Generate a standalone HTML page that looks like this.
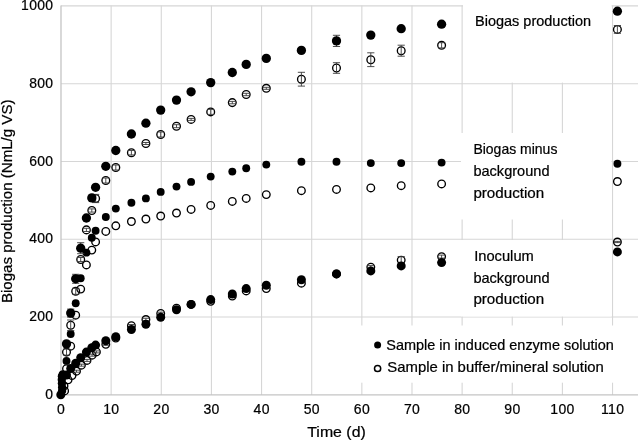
<!DOCTYPE html>
<html lang="en"><head><meta charset="utf-8"><title>Biogas production</title>
<style>
html,body{margin:0;padding:0;background:#fff;}
body{width:638px;height:440px;overflow:hidden;}
svg{display:block;}
text{font-family:"Liberation Sans",sans-serif;fill:#000;stroke:#000;stroke-width:0.22;}
.g{stroke:#d6d6d6;stroke-width:1.1;}
.ax{stroke:#c4c4c4;stroke-width:1.3;}
.f{fill:#000;}
.o{fill:none;stroke:#000;stroke-width:1.35;}
.e{stroke:#3a3a3a;stroke-width:0.9;fill:none;}
</style></head><body>
<svg width="638" height="440" viewBox="0 0 638 440">
<rect width="638" height="440" fill="#fff"/>
<line class="g" x1="61" y1="317.06" x2="638" y2="317.06"/>
<line class="g" x1="61" y1="239.27" x2="638" y2="239.27"/>
<line class="g" x1="61" y1="161.48" x2="638" y2="161.48"/>
<line class="g" x1="61" y1="83.69" x2="638" y2="83.69"/>
<line class="g" x1="61" y1="5.90" x2="638" y2="5.90"/>
<line class="g" x1="111.14" y1="5.4" x2="111.14" y2="394.9"/>
<line class="g" x1="161.28" y1="5.4" x2="161.28" y2="394.9"/>
<line class="g" x1="211.42" y1="5.4" x2="211.42" y2="394.9"/>
<line class="g" x1="261.56" y1="5.4" x2="261.56" y2="394.9"/>
<line class="g" x1="311.70" y1="5.4" x2="311.70" y2="394.9"/>
<line class="g" x1="361.84" y1="5.4" x2="361.84" y2="394.9"/>
<line class="g" x1="411.98" y1="5.4" x2="411.98" y2="394.9"/>
<line class="g" x1="462.12" y1="5.4" x2="462.12" y2="394.9"/>
<line class="g" x1="512.26" y1="5.4" x2="512.26" y2="394.9"/>
<line class="g" x1="562.40" y1="5.4" x2="562.40" y2="394.9"/>
<line class="g" x1="612.54" y1="5.4" x2="612.54" y2="394.9"/>
<line class="ax" x1="61" y1="5.4" x2="61" y2="395.5"/>
<line class="ax" x1="60.4" y1="394.85" x2="638" y2="394.85"/>
<rect x="463" y="4" width="148.6" height="78.6" fill="#fff"/>
<rect x="461" y="133" width="150.5" height="86.5" fill="#fff"/>
<rect x="461" y="240" width="150.5" height="76.5" fill="#fff"/>
<rect x="360" y="325.5" width="278" height="57.2" fill="#fff"/>
<circle class="o" cx="68.1" cy="379.8" r="3.8"/>
<circle class="o" cx="72.0" cy="375.5" r="3.8"/>
<circle class="o" cx="76.5" cy="371.2" r="3.8"/>
<path class="e" d="M76.5 370.2V372.2M72.9 370.2H80.1M72.9 372.2H80.1"/>
<circle class="o" cx="81.4" cy="365.2" r="3.8"/>
<path class="e" d="M81.4 364.2V366.2M77.8 364.2H85.0M77.8 366.2H85.0"/>
<circle class="o" cx="87.0" cy="360.4" r="3.8"/>
<path class="e" d="M87.0 359.4V361.4M83.4 359.4H90.6M83.4 361.4H90.6"/>
<circle class="o" cx="92.1" cy="355.2" r="3.8"/>
<path class="e" d="M92.1 354.2V356.2M88.5 354.2H95.7M88.5 356.2H95.7"/>
<circle class="o" cx="96.4" cy="351.9" r="3.8"/>
<path class="e" d="M96.4 350.9V352.9M92.8 350.9H100.0M92.8 352.9H100.0"/>
<circle class="o" cx="105.8" cy="344.3" r="3.8"/>
<path class="e" d="M105.8 343.3V345.3M102.2 343.3H109.4M102.2 345.3H109.4"/>
<circle class="o" cx="115.8" cy="338.0" r="3.8"/>
<circle class="o" cx="131.4" cy="325.7" r="3.8"/>
<path class="e" d="M131.4 324.5V326.9M127.8 324.5H135.0M127.8 326.9H135.0"/>
<circle class="o" cx="145.9" cy="319.5" r="3.8"/>
<path class="e" d="M145.9 318.3V320.7M142.3 318.3H149.5M142.3 320.7H149.5"/>
<circle class="o" cx="160.7" cy="313.4" r="3.8"/>
<path class="e" d="M160.7 312.2V314.6M157.1 312.2H164.3M157.1 314.6H164.3"/>
<circle class="o" cx="176.5" cy="308.2" r="3.8"/>
<circle class="o" cx="191.1" cy="304.4" r="3.8"/>
<circle class="o" cx="210.7" cy="301.3" r="3.8"/>
<circle class="o" cx="232.3" cy="296.1" r="3.8"/>
<circle class="o" cx="246.2" cy="290.9" r="3.8"/>
<circle class="o" cx="266.3" cy="288.6" r="3.8"/>
<circle class="o" cx="301.4" cy="283.2" r="3.8"/>
<circle class="o" cx="336.5" cy="273.9" r="3.8"/>
<circle class="o" cx="370.8" cy="267.1" r="3.8"/>
<path class="e" d="M370.8 265.6V268.6M367.2 265.6H374.4M367.2 268.6H374.4"/>
<circle class="o" cx="401.2" cy="260.1" r="3.8"/>
<path class="e" d="M401.2 256.6V263.6M397.6 256.6H404.8M397.6 263.6H404.8"/>
<circle class="o" cx="441.6" cy="256.6" r="3.8"/>
<path class="e" d="M441.6 255.1V258.1M438.0 255.1H445.2M438.0 258.1H445.2"/>
<circle class="o" cx="617.4" cy="242.0" r="3.8"/>
<path class="e" d="M617.4 241.4V242.6M613.8 241.4H621.0M613.8 242.6H621.0"/>
<circle class="f" cx="66.5" cy="375.0" r="4.5"/>
<circle class="f" cx="70.7" cy="368.4" r="4.5"/>
<circle class="f" cx="75.7" cy="363.2" r="4.5"/>
<circle class="f" cx="80.7" cy="357.8" r="4.5"/>
<circle class="f" cx="86.4" cy="352.1" r="4.5"/>
<circle class="f" cx="91.8" cy="347.7" r="4.5"/>
<circle class="f" cx="95.6" cy="345.1" r="4.5"/>
<circle class="f" cx="105.8" cy="340.8" r="4.5"/>
<circle class="f" cx="115.8" cy="336.7" r="4.5"/>
<circle class="f" cx="131.4" cy="329.5" r="4.5"/>
<circle class="f" cx="145.9" cy="324.2" r="4.5"/>
<circle class="f" cx="160.7" cy="317.2" r="4.5"/>
<circle class="f" cx="176.5" cy="309.7" r="4.5"/>
<circle class="f" cx="191.1" cy="304.4" r="4.5"/>
<circle class="f" cx="210.7" cy="299.6" r="4.5"/>
<circle class="f" cx="232.3" cy="294.0" r="4.5"/>
<circle class="f" cx="246.2" cy="288.6" r="4.5"/>
<circle class="f" cx="266.3" cy="285.2" r="4.5"/>
<circle class="f" cx="301.4" cy="279.7" r="4.5"/>
<circle class="f" cx="336.5" cy="273.9" r="4.5"/>
<circle class="f" cx="370.8" cy="270.9" r="4.5"/>
<circle class="f" cx="401.2" cy="265.9" r="4.5"/>
<circle class="f" cx="441.6" cy="262.6" r="4.5"/>
<circle class="f" cx="617.4" cy="251.9" r="4.5"/>
<circle class="o" cx="66.5" cy="368.7" r="3.8"/>
<circle class="o" cx="70.7" cy="346.2" r="3.8"/>
<circle class="o" cx="75.7" cy="315.2" r="3.8"/>
<circle class="o" cx="80.7" cy="289.1" r="3.8"/>
<circle class="o" cx="86.4" cy="264.9" r="3.8"/>
<circle class="o" cx="91.8" cy="250.1" r="3.8"/>
<circle class="o" cx="95.6" cy="241.9" r="3.8"/>
<circle class="o" cx="105.8" cy="231.4" r="3.8"/>
<circle class="o" cx="115.8" cy="225.8" r="3.8"/>
<circle class="o" cx="131.4" cy="221.5" r="3.8"/>
<circle class="o" cx="145.9" cy="219.0" r="3.8"/>
<circle class="o" cx="160.7" cy="216.0" r="3.8"/>
<circle class="o" cx="176.5" cy="213.0" r="3.8"/>
<circle class="o" cx="191.1" cy="209.4" r="3.8"/>
<circle class="o" cx="210.7" cy="205.4" r="3.8"/>
<circle class="o" cx="232.3" cy="201.4" r="3.8"/>
<circle class="o" cx="246.2" cy="198.4" r="3.8"/>
<circle class="o" cx="266.3" cy="194.6" r="3.8"/>
<circle class="o" cx="301.4" cy="190.7" r="3.8"/>
<circle class="o" cx="336.5" cy="189.4" r="3.8"/>
<circle class="o" cx="370.8" cy="187.9" r="3.8"/>
<circle class="o" cx="401.2" cy="185.7" r="3.8"/>
<circle class="o" cx="441.6" cy="183.9" r="3.8"/>
<circle class="o" cx="617.4" cy="181.5" r="3.8"/>
<circle class="f" cx="66.5" cy="360.9" r="3.95"/>
<circle class="f" cx="70.7" cy="334.0" r="3.95"/>
<circle class="f" cx="75.7" cy="303.2" r="3.95"/>
<circle class="f" cx="80.7" cy="278.2" r="3.95"/>
<circle class="f" cx="86.4" cy="252.6" r="3.95"/>
<circle class="f" cx="91.8" cy="237.8" r="3.95"/>
<circle class="f" cx="95.6" cy="230.8" r="3.95"/>
<circle class="f" cx="105.8" cy="217.0" r="3.95"/>
<circle class="f" cx="115.8" cy="208.6" r="3.95"/>
<circle class="f" cx="131.4" cy="202.7" r="3.95"/>
<circle class="f" cx="145.9" cy="198.4" r="3.95"/>
<circle class="f" cx="160.7" cy="191.9" r="3.95"/>
<circle class="f" cx="176.5" cy="186.6" r="3.95"/>
<circle class="f" cx="191.1" cy="181.9" r="3.95"/>
<circle class="f" cx="210.7" cy="176.6" r="3.95"/>
<circle class="f" cx="232.3" cy="171.6" r="3.95"/>
<circle class="f" cx="246.2" cy="168.3" r="3.95"/>
<circle class="f" cx="266.3" cy="164.6" r="3.95"/>
<circle class="f" cx="301.4" cy="161.8" r="3.95"/>
<circle class="f" cx="336.5" cy="161.8" r="3.95"/>
<circle class="f" cx="370.8" cy="163.1" r="3.95"/>
<circle class="f" cx="401.2" cy="163.1" r="3.95"/>
<circle class="f" cx="441.6" cy="162.6" r="3.95"/>
<circle class="f" cx="617.4" cy="163.7" r="3.95"/>
<circle class="o" cx="66.5" cy="352.1" r="3.85"/>
<path class="e" d="M66.5 349.1V355.1M62.9 349.1H70.1M62.9 355.1H70.1"/>
<circle class="o" cx="70.7" cy="325.3" r="3.85"/>
<path class="e" d="M70.7 320.0V330.6M67.1 320.0H74.3M67.1 330.6H74.3"/>
<circle class="o" cx="75.7" cy="291.3" r="3.85"/>
<path class="e" d="M75.7 288.3V294.3M72.1 288.3H79.3M72.1 294.3H79.3"/>
<circle class="o" cx="80.7" cy="259.5" r="3.85"/>
<path class="e" d="M80.7 257.5V261.5M77.1 257.5H84.3M77.1 261.5H84.3"/>
<circle class="o" cx="86.4" cy="229.9" r="3.85"/>
<path class="e" d="M86.4 228.3V231.5M82.8 228.3H90.0M82.8 231.5H90.0"/>
<circle class="o" cx="91.8" cy="210.5" r="3.85"/>
<path class="e" d="M91.8 208.9V212.1M88.2 208.9H95.4M88.2 212.1H95.4"/>
<circle class="o" cx="95.6" cy="198.5" r="3.85"/>
<path class="e" d="M95.6 194.4V202.6M92.0 194.4H99.2M92.0 202.6H99.2"/>
<circle class="o" cx="105.8" cy="180.5" r="3.85"/>
<path class="e" d="M105.8 178.0V183.0M102.2 178.0H109.4M102.2 183.0H109.4"/>
<circle class="o" cx="115.8" cy="167.5" r="3.85"/>
<path class="e" d="M115.8 165.0V170.0M112.2 165.0H119.4M112.2 170.0H119.4"/>
<circle class="o" cx="131.4" cy="152.7" r="3.85"/>
<path class="e" d="M131.4 150.5V154.9M127.8 150.5H135.0M127.8 154.9H135.0"/>
<circle class="o" cx="145.9" cy="143.5" r="3.85"/>
<path class="e" d="M145.9 142.5V144.5M142.3 142.5H149.5M142.3 144.5H149.5"/>
<circle class="o" cx="160.7" cy="134.5" r="3.85"/>
<path class="e" d="M160.7 132.0V137.0M157.1 132.0H164.3M157.1 137.0H164.3"/>
<circle class="o" cx="176.5" cy="126.2" r="3.85"/>
<path class="e" d="M176.5 124.7V127.7M172.9 124.7H180.1M172.9 127.7H180.1"/>
<circle class="o" cx="191.1" cy="119.4" r="3.85"/>
<path class="e" d="M191.1 118.4V120.4M187.5 118.4H194.7M187.5 120.4H194.7"/>
<circle class="o" cx="210.7" cy="111.9" r="3.85"/>
<path class="e" d="M210.7 109.4V114.4M207.1 109.4H214.3M207.1 114.4H214.3"/>
<circle class="o" cx="232.3" cy="102.6" r="3.85"/>
<path class="e" d="M232.3 101.4V103.8M228.7 101.4H235.9M228.7 103.8H235.9"/>
<circle class="o" cx="246.2" cy="94.5" r="3.85"/>
<path class="e" d="M246.2 93.3V95.7M242.6 93.3H249.8M242.6 95.7H249.8"/>
<circle class="o" cx="266.3" cy="88.3" r="3.85"/>
<path class="e" d="M266.3 87.3V89.3M262.7 87.3H269.9M262.7 89.3H269.9"/>
<circle class="o" cx="301.4" cy="79.2" r="3.85"/>
<path class="e" d="M301.4 72.3V86.1M297.8 72.3H305.0M297.8 86.1H305.0"/>
<circle class="o" cx="336.5" cy="68.0" r="3.85"/>
<path class="e" d="M336.5 62.7V73.3M332.9 62.7H340.1M332.9 73.3H340.1"/>
<circle class="o" cx="370.8" cy="59.7" r="3.85"/>
<path class="e" d="M370.8 52.8V66.6M367.2 52.8H374.4M367.2 66.6H374.4"/>
<circle class="o" cx="401.2" cy="50.7" r="3.85"/>
<path class="e" d="M401.2 45.2V56.2M397.6 45.2H404.8M397.6 56.2H404.8"/>
<circle class="o" cx="441.6" cy="45.3" r="3.85"/>
<path class="e" d="M441.6 42.7V47.9M438.0 42.7H445.2M438.0 47.9H445.2"/>
<circle class="o" cx="617.4" cy="29.4" r="3.85"/>
<path class="e" d="M617.4 25.5V33.3M613.8 25.5H621.0M613.8 33.3H621.0"/>
<circle class="f" cx="66.5" cy="343.9" r="4.65"/>
<path class="e" d="M70.7 309.1V317.1M67.1 309.1H74.3M67.1 317.1H74.3"/>
<circle class="f" cx="70.7" cy="313.1" r="4.65"/>
<path class="e" d="M75.7 274.3V283.3M72.1 274.3H79.3M72.1 283.3H79.3"/>
<circle class="f" cx="75.7" cy="278.8" r="4.65"/>
<path class="e" d="M80.7 242.7V253.7M77.1 242.7H84.3M77.1 253.7H84.3"/>
<circle class="f" cx="80.7" cy="248.2" r="4.65"/>
<circle class="f" cx="86.4" cy="218.0" r="4.65"/>
<circle class="f" cx="91.8" cy="197.9" r="4.65"/>
<circle class="f" cx="95.6" cy="187.3" r="4.65"/>
<circle class="f" cx="105.8" cy="166.3" r="4.65"/>
<circle class="f" cx="115.8" cy="150.5" r="4.65"/>
<circle class="f" cx="131.4" cy="134.0" r="4.65"/>
<circle class="f" cx="145.9" cy="123.2" r="4.65"/>
<circle class="f" cx="160.7" cy="110.1" r="4.65"/>
<circle class="f" cx="176.5" cy="100.1" r="4.65"/>
<circle class="f" cx="191.1" cy="91.8" r="4.65"/>
<circle class="f" cx="210.7" cy="82.6" r="4.65"/>
<circle class="f" cx="232.3" cy="72.5" r="4.65"/>
<circle class="f" cx="246.2" cy="64.4" r="4.65"/>
<circle class="f" cx="266.3" cy="58.4" r="4.65"/>
<circle class="f" cx="301.4" cy="50.4" r="4.65"/>
<path class="e" d="M336.5 35.3V46.5M332.9 35.3H340.1M332.9 46.5H340.1"/>
<circle class="f" cx="336.5" cy="40.9" r="4.65"/>
<circle class="f" cx="370.8" cy="35.1" r="4.65"/>
<circle class="f" cx="401.2" cy="28.7" r="4.65"/>
<circle class="f" cx="441.6" cy="24.2" r="4.65"/>
<circle class="f" cx="617.4" cy="11.2" r="4.65"/>
<circle class="o" cx="64.6" cy="390.9" r="3.8"/>
<circle class="o" cx="64.0" cy="386" r="3.8"/>
<circle class="f" cx="62.1" cy="391" r="4.15"/>
<circle class="f" cx="62.1" cy="387.5" r="4.15"/>
<circle class="f" cx="61.9" cy="383.5" r="4.15"/>
<circle class="f" cx="61.8" cy="379.8" r="4.15"/>
<circle class="f" cx="61.9" cy="376.3" r="4.15"/>
<circle class="f" cx="62.8" cy="374.3" r="4.15"/>
<circle class="f" cx="60.8" cy="394.8" r="4.5"/>
<text x="53.4" y="399.0" font-size="13.9" letter-spacing="0.35" text-anchor="end">0</text>
<text x="53.4" y="321.2" font-size="13.9" letter-spacing="0.35" text-anchor="end">200</text>
<text x="53.4" y="243.4" font-size="13.9" letter-spacing="0.35" text-anchor="end">400</text>
<text x="53.4" y="165.6" font-size="13.9" letter-spacing="0.35" text-anchor="end">600</text>
<text x="53.4" y="87.8" font-size="13.9" letter-spacing="0.35" text-anchor="end">800</text>
<text x="53.4" y="10.0" font-size="13.9" letter-spacing="0.35" text-anchor="end">1000</text>
<text x="61.1" y="413.7" font-size="14" letter-spacing="0.35" text-anchor="middle">0</text>
<text x="111.3" y="413.7" font-size="14" letter-spacing="0.35" text-anchor="middle">10</text>
<text x="161.4" y="413.7" font-size="14" letter-spacing="0.35" text-anchor="middle">20</text>
<text x="211.6" y="413.7" font-size="14" letter-spacing="0.35" text-anchor="middle">30</text>
<text x="261.7" y="413.7" font-size="14" letter-spacing="0.35" text-anchor="middle">40</text>
<text x="311.8" y="413.7" font-size="14" letter-spacing="0.35" text-anchor="middle">50</text>
<text x="362.0" y="413.7" font-size="14" letter-spacing="0.35" text-anchor="middle">60</text>
<text x="412.1" y="413.7" font-size="14" letter-spacing="0.35" text-anchor="middle">70</text>
<text x="462.3" y="413.7" font-size="14" letter-spacing="0.35" text-anchor="middle">80</text>
<text x="512.4" y="413.7" font-size="14" letter-spacing="0.35" text-anchor="middle">90</text>
<text x="562.5" y="413.7" font-size="14" letter-spacing="0.35" text-anchor="middle">100</text>
<text x="612.7" y="413.7" font-size="14" letter-spacing="0.35" text-anchor="middle">110</text>
<text x="336.5" y="436.5" font-size="14.3" text-anchor="middle" textLength="58.5" lengthAdjust="spacingAndGlyphs">Time (d)</text>
<text transform="translate(12.2 201.3) rotate(-90)" font-size="14.3" text-anchor="middle" textLength="203.6" lengthAdjust="spacingAndGlyphs">Biogas production (NmL/g VS)</text>
<text x="475.0" y="25.9" font-size="14.3" textLength="116" lengthAdjust="spacingAndGlyphs">Biogas production</text>
<text x="473.4" y="154.4" font-size="14.3" textLength="84" lengthAdjust="spacingAndGlyphs">Biogas minus</text>
<text x="473.4" y="176.1" font-size="14.3" textLength="76.1" lengthAdjust="spacingAndGlyphs">background</text>
<text x="473.4" y="197.8" font-size="14.3" textLength="70.8" lengthAdjust="spacingAndGlyphs">production</text>
<text x="474.2" y="261.4" font-size="14.3" textLength="59.6" lengthAdjust="spacingAndGlyphs">Inoculum</text>
<text x="473.4" y="282.6" font-size="14.3" textLength="76.1" lengthAdjust="spacingAndGlyphs">background</text>
<text x="473.4" y="304.3" font-size="14.3" textLength="70.8" lengthAdjust="spacingAndGlyphs">production</text>
<circle class="f" cx="377.6" cy="345.1" r="3.5"/>
<text x="386.3" y="349.6" font-size="14.3" textLength="227.5" lengthAdjust="spacingAndGlyphs">Sample in induced enzyme solution</text>
<circle cx="377.6" cy="368.5" r="3.1" fill="none" stroke="#000" stroke-width="1.5"/>
<text x="387.3" y="372.1" font-size="14.3" textLength="216.5" lengthAdjust="spacingAndGlyphs">Sample in buffer/mineral solution</text>
</svg></body></html>
